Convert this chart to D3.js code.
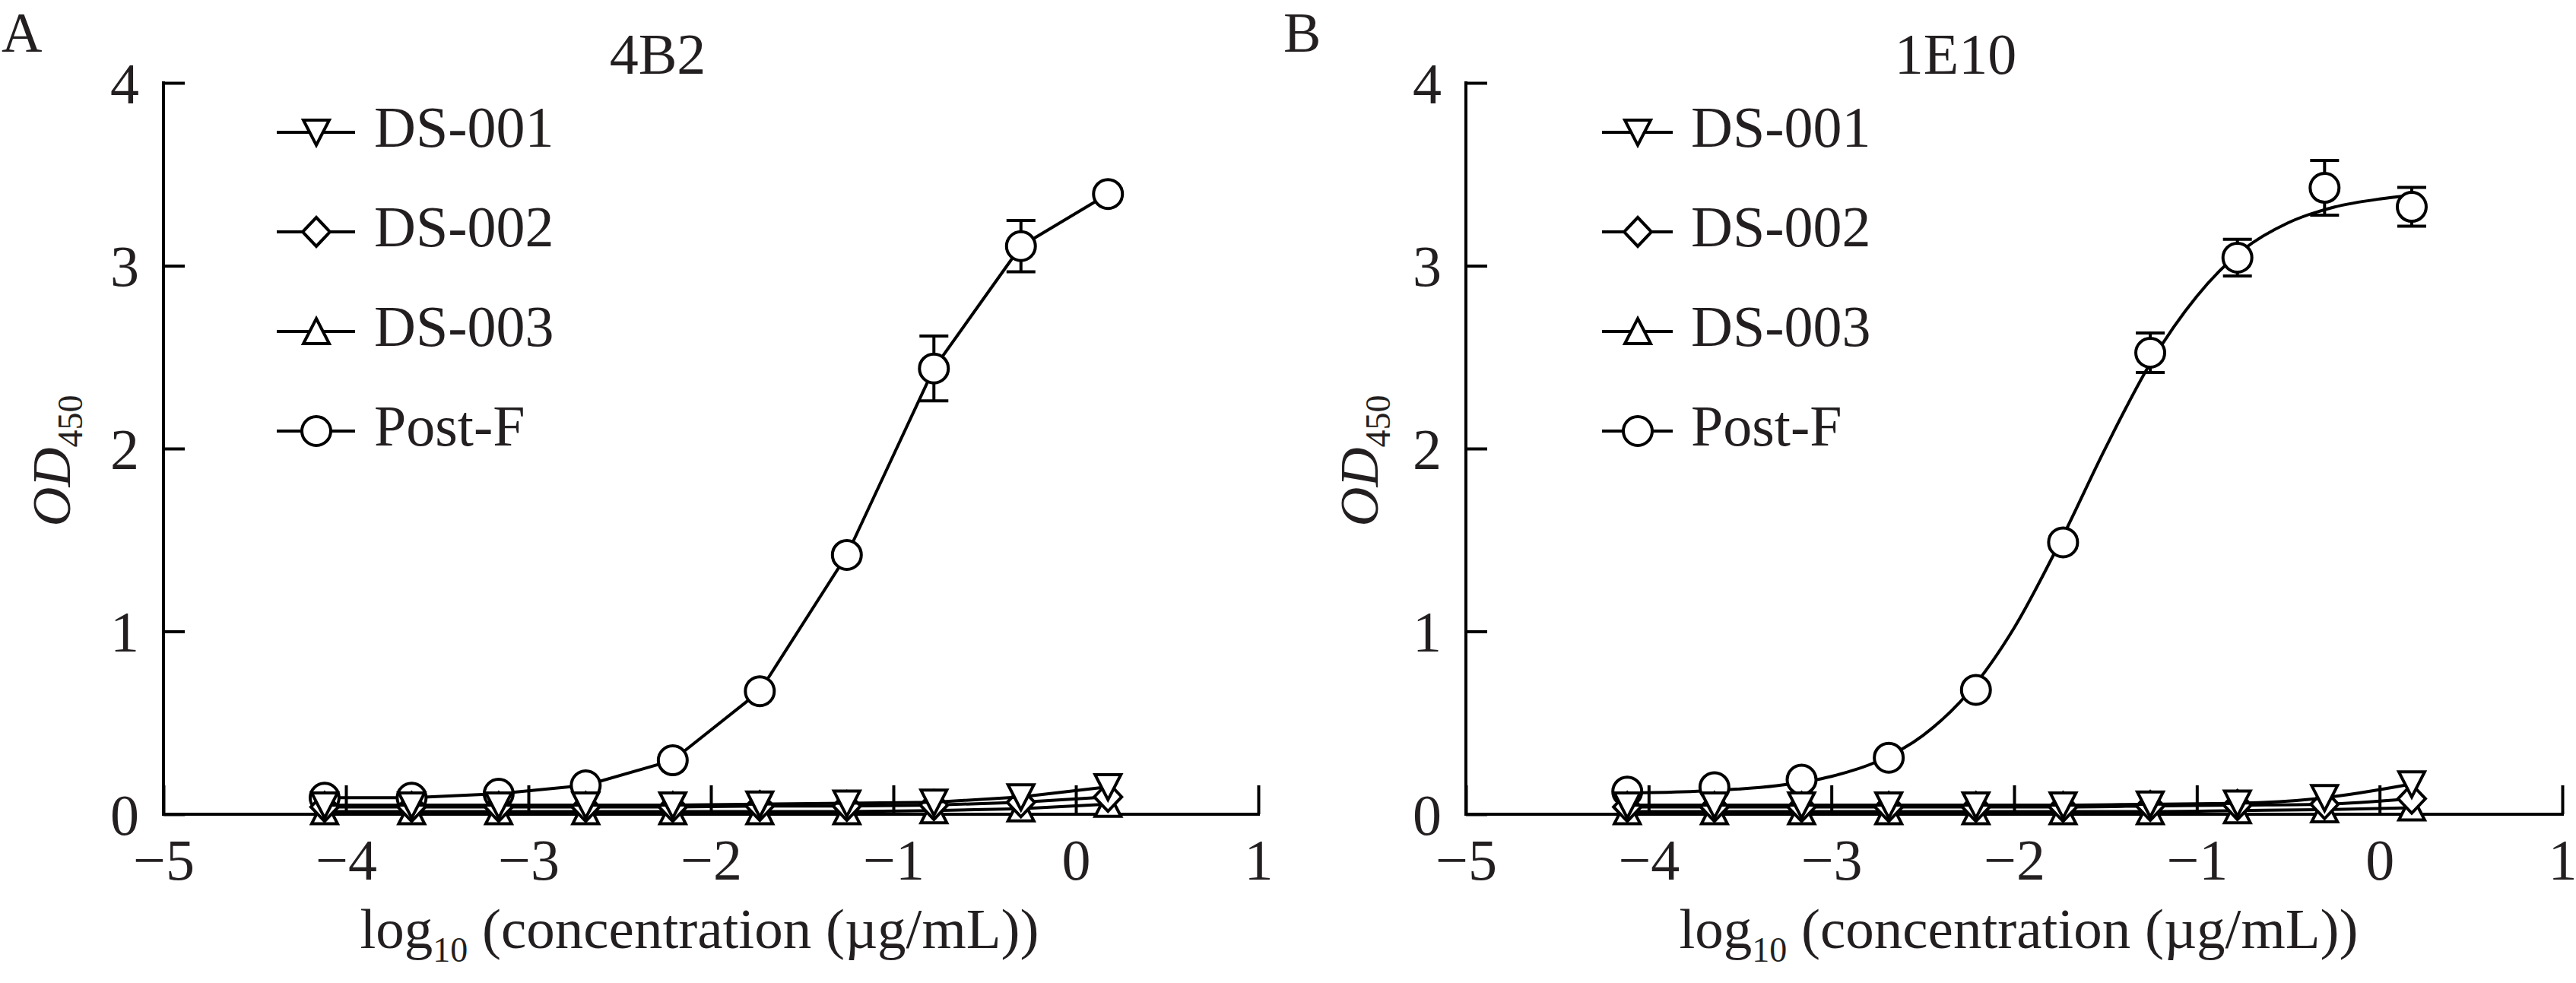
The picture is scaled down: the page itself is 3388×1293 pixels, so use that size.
<!DOCTYPE html>
<html><head><meta charset="utf-8">
<script src="https://cdn.jsdelivr.net/npm/d3@7"></script>
<style>body{margin:0;background:#fff}</style></head>
<body>
<svg id="c" width="3388" height="1293" xmlns="http://www.w3.org/2000/svg"></svg>
<script>
// ---------- data ----------
const seriesNames = ["DS-001", "DS-002", "DS-003", "Post-F"];
const seriesSymbols = ["down", "diamond", "up", "circle"];
const logConc = [-4.117, -3.640, -3.163, -2.686, -2.209, -1.732, -1.255, -0.778, -0.301, 0.176];
const xTickValues = [-5, -4, -3, -2, -1, 0, 1];
const yTickValues = [0, 1, 2, 3, 4];
const panelLetters = ["A", "B"];
const panelTitles = ["4B2", "1E10"];

// Panel A (4B2)
const a_ds001 = [0.05, 0.05, 0.05, 0.05, 0.05, 0.055, 0.06, 0.065, 0.095, 0.15];
const a_ds002 = [0.04, 0.04, 0.04, 0.04, 0.04, 0.045, 0.045, 0.05, 0.065, 0.095];
const a_ds003 = [0.015, 0.015, 0.015, 0.015, 0.015, 0.015, 0.015, 0.02, 0.03, 0.055];
const a_postF = [0.09, 0.09, 0.112, 0.158, 0.295, 0.673, 1.418, 2.438, 3.107, 3.392];
const a_postF_err = [0.01, 0.01, 0.01, 0.01, 0.02, 0.02, 0.03, 0.177, 0.14, 0.03];

// Panel B (1E10)
const b_ds001 = [0.05, 0.05, 0.05, 0.05, 0.05, 0.05, 0.055, 0.06, 0.09, 0.165];
const b_ds002 = [0.04, 0.04, 0.04, 0.04, 0.04, 0.04, 0.045, 0.05, 0.055, 0.085];
const b_ds003 = [0.015, 0.015, 0.015, 0.015, 0.015, 0.015, 0.015, 0.02, 0.025, 0.035];
const b_postF = [0.124, 0.148, 0.189, 0.309, 0.68, 1.487, 2.524, 3.044, 3.426, 3.322];
const b_postF_err = [0.01, 0.01, 0.01, 0.02, 0.02, 0.03, 0.108, 0.10, 0.15, 0.106];
// fitted curve of Post-F in panel B
const b_fitX = [-4.117, -3.9, -3.6, -3.3, -3.0, -2.75, -2.5, -2.25, -2.0, -1.75, -1.5, -1.25, -1.0, -0.75, -0.5, -0.25, 0.0, 0.176];
const b_fitY = [0.116, 0.120, 0.132, 0.156, 0.207, 0.288, 0.430, 0.665, 1.019, 1.486, 2.003, 2.474, 2.833, 3.085, 3.235, 3.32, 3.365, 3.385];

// ---------- layout / style ----------
const FONT = '"Liberation Serif","Times New Roman",Times,serif';
const INK = "#231f20";
const SW = 4;
const panelsLayout = [
  { x0: 215, x1: 1655, letterX: 2, letterY: 68, titleX: 865, xlabX: 920, ylabX: 92,
    legLine: [149, 252], legMark: 201, legText: 277, smooth: false },
  { x0: 1928, x1: 3370, letterX: 1688, letterY: 68, titleX: 2572, xlabX: 2655, ylabX: 1812,
    legLine: [179, 272], legMark: 226, legText: 296, smooth: true }
];
const yTop = 109, yBot = 1071;

const svg = d3.select("#c");
svg.append("rect").attr("width", 3388).attr("height", 1293).attr("fill", "#fff");

function symbolPath(type) {
  if (type === "down") return "M-17,-16H17L0,17Z";
  if (type === "up") return "M0,-17L17,16H-17Z";
  if (type === "diamond") return "M0,-19L18,0L0,19L-18,0Z";
  return null;
}
function drawMarker(g, type, x, y) {
  if (type === "circle") {
    g.append("circle").attr("cx", x).attr("cy", y).attr("r", 19)
      .attr("fill", "#fff").attr("stroke", "#000").attr("stroke-width", SW);
  } else {
    g.append("path").attr("d", symbolPath(type)).attr("transform", `translate(${x},${y})`)
      .attr("fill", "#fff").attr("stroke", "#000").attr("stroke-width", SW)
      .attr("stroke-linejoin", "miter");
  }
}

const panelData = [
  { ds: [a_ds001, a_ds002, a_ds003], postF: a_postF, err: a_postF_err, fitX: null, fitY: null },
  { ds: [b_ds001, b_ds002, b_ds003], postF: b_postF, err: b_postF_err, fitX: b_fitX, fitY: b_fitY }
];

panelsLayout.forEach((L, pi) => {
  const D = panelData[pi];
  const x = d3.scaleLinear().domain([-5, 1]).range([L.x0, L.x1]);
  const y = d3.scaleLinear().domain([0, 4]).range([yBot, yTop]);
  const g = svg.append("g");

  // axes
  const xAxis = d3.axisBottom(x).tickValues(xTickValues).tickSizeInner(-38).tickSizeOuter(0)
    .tickFormat(d => d < 0 ? "\u2212" + Math.abs(d) : String(d));
  const gx = g.append("g").attr("transform", `translate(0,${yBot})`).call(xAxis);
  gx.select(".domain").attr("stroke", "#000").attr("stroke-width", SW)
    .attr("d", `M${L.x0 - SW / 2},0H${L.x1 + SW / 2}`);
  gx.selectAll(".tick line").attr("stroke", "#000").attr("stroke-width", SW);
  gx.selectAll(".tick text").attr("fill", INK).attr("font-family", FONT).attr("font-size", 76)
    .attr("y", 86).attr("dy", 0);

  const yAxis = d3.axisLeft(y).tickValues(yTickValues).tickSizeInner(-28).tickSizeOuter(0)
    .tickFormat(d3.format("d"));
  const gy = g.append("g").attr("transform", `translate(${L.x0},0)`).call(yAxis);
  gy.select(".domain").attr("stroke", "#000").attr("stroke-width", SW)
    .attr("d", `M0,${yTop - SW / 2}V${yBot + SW / 2}`);
  gy.selectAll(".tick line").attr("stroke", "#000").attr("stroke-width", SW);
  gy.selectAll(".tick text").attr("fill", INK).attr("font-family", FONT).attr("font-size", 76)
    .attr("x", -32).attr("dy", 26);
  g.selectAll("g").attr("font-family", FONT);

  const lineStraight = d3.line().x(d => x(d[0])).y(d => y(d[1]));
  const lineSmooth = d3.line().x(d => x(d[0])).y(d => y(d[1])).curve(d3.curveMonotoneX);

  // draw order: Post-F, DS-003, DS-002, DS-001
  const order = [3, 2, 1, 0];
  order.forEach(si => {
    const vals = si === 3 ? D.postF : D.ds[si];
    const sg = g.append("g");
    let pts;
    if (si === 3 && D.fitX) pts = D.fitX.map((v, i) => [v, D.fitY[i]]);
    else pts = logConc.map((v, i) => [v, vals[i]]);
    const gen = L.smooth ? lineSmooth : lineStraight;
    sg.append("path").attr("d", gen(pts)).attr("fill", "none")
      .attr("stroke", "#000").attr("stroke-width", SW).attr("stroke-linejoin", "round");
    if (si === 3) {
      logConc.forEach((v, i) => {
        const e = D.err[i], cx = x(v);
        const yt = y(vals[i] + e), yb = y(vals[i] - e);
        sg.append("path").attr("d", `M${cx},${yt}V${yb}M${cx - 19},${yt}H${cx + 19}M${cx - 19},${yb}H${cx + 19}`)
          .attr("stroke", "#000").attr("stroke-width", SW).attr("fill", "none");
      });
    }
    logConc.forEach((v, i) => drawMarker(sg, seriesSymbols[si], x(v), y(vals[i])));
  });

  // legend
  seriesNames.forEach((name, i) => {
    const ry = 174 + 131 * i;
    g.append("line").attr("x1", L.x0 + L.legLine[0]).attr("x2", L.x0 + L.legLine[1])
      .attr("y1", ry).attr("y2", ry).attr("stroke", "#000").attr("stroke-width", SW);
    drawMarker(g, seriesSymbols[i], L.x0 + L.legMark, ry);
    g.append("text").attr("x", L.x0 + L.legText).attr("y", ry + 19)
      .attr("font-family", FONT).attr("font-size", 76).attr("fill", INK).text(name);
  });

  // title and panel letter
  g.append("text").attr("x", L.titleX).attr("y", 97).attr("text-anchor", "middle")
    .attr("font-family", FONT).attr("font-size", 76).attr("fill", INK).text(panelTitles[pi]);
  g.append("text").attr("x", L.letterX).attr("y", L.letterY)
    .attr("font-family", FONT).attr("font-size", 74).attr("fill", INK).text(panelLetters[pi]);

  // x label
  const xl = g.append("text").attr("x", L.xlabX).attr("y", 1247).attr("text-anchor", "middle")
    .attr("font-family", FONT).attr("font-size", 75).attr("fill", INK);
  xl.append("tspan").text("log");
  xl.append("tspan").attr("font-size", 46).attr("dy", 18).text("10");
  xl.append("tspan").attr("dy", -18).text(" (concentration (\u00b5g/mL))");

  // y label
  const yl = g.append("text").attr("transform", `translate(${L.ylabX},606) rotate(-90)`)
    .attr("text-anchor", "middle").attr("font-family", FONT).attr("font-size", 72).attr("fill", INK);
  yl.append("tspan").attr("font-style", "italic").text("OD");
  yl.append("tspan").attr("font-size", 46).attr("dy", 16).text("450");
});
</script>
</body></html>
